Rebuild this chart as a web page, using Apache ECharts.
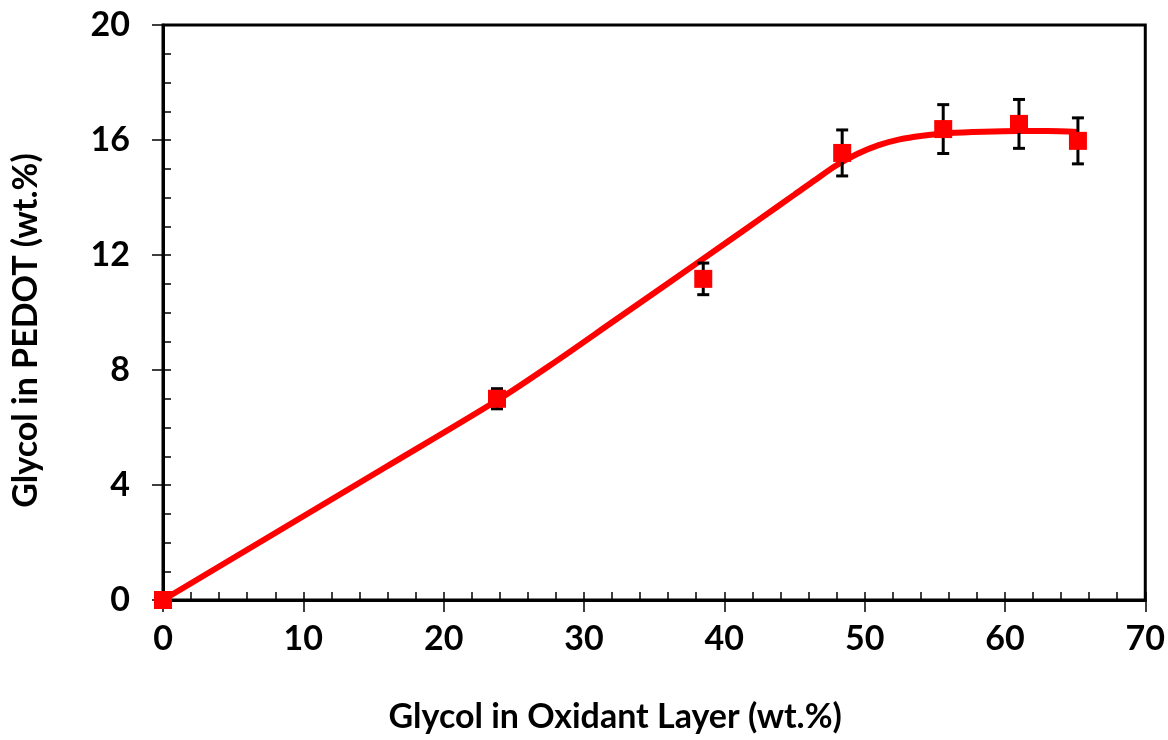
<!DOCTYPE html>
<html>
<head>
<meta charset="utf-8">
<script src="https://cdn.jsdelivr.net/npm/echarts@6/dist/echarts.min.js"></script>
<style>html,body{margin:0;padding:0;background:#fff;}#c{width:1168px;height:740px;}</style>
</head>
<body>
<div id="c"></div>
<script>
// Measured points
const xVals = [0, 23.8, 38.5, 48.4, 55.6, 61.0, 65.2];
const yVals = [0, 7.0, 11.17, 15.55, 16.38, 16.56, 15.97];
const yErr  = [0, 0.35, 0.55, 0.8, 0.85, 0.85, 0.8];
// Fitted curve
const curveX = [0, 8, 16, 24, 28, 32, 36, 40, 42.5, 45, 46.5, 48, 49.5, 51, 52.5, 54, 56, 58.5, 61, 63, 65.2];
const curveY = [0, 2.33, 4.66, 7.0, 8.3, 9.66, 11.02, 12.38, 13.24, 14.1, 14.62, 15.12, 15.52, 15.82, 16.02, 16.14, 16.24, 16.29, 16.31, 16.31, 16.28];
const xTitle = 'Glycol in Oxidant Layer (wt.%)';
const yTitle = 'Glycol in PEDOT (wt.%)';

const FONT = 'Lato';
const chart = echarts.init(document.getElementById('c'), null, {renderer: 'canvas'});
const pts = xVals.map((x, i) => [x, yVals[i]]);
const errData = xVals.map((x, i) => [x, yVals[i] - yErr[i], yVals[i] + yErr[i]]);
const curve = curveX.map((x, i) => [x, curveY[i]]);

chart.setOption({
  animation: false,
  grid: {left: 163, right: 22, top: 25, bottom: 140, show: true, borderColor: '#000', borderWidth: 3, backgroundColor: 'transparent'},
  xAxis: [{
    type: 'value', min: 0, max: 70, interval: 10,
    axisLine: {show: true, onZero: false, lineStyle: {color: '#000', width: 3}},
    axisTick: {show: true, inside: true, length: 8, lineStyle: {color: '#000', width: 1.5}},
    minorTick: {show: true, splitNumber: 5, length: 8, lineStyle: {color: '#000', width: 1.5}},
    splitLine: {show: false},
    axisLabel: {color: '#000', fontFamily: FONT, fontWeight: 'bold', fontSize: 34, margin: 22},
    name: xTitle, nameLocation: 'middle', nameGap: 100,
    nameTextStyle: {color: '#000', fontFamily: FONT, fontWeight: 'bold', fontSize: 34, padding: [0, 78, 0, 0]}
  }, {
    type: 'value', min: 0, max: 70, interval: 10, position: 'bottom',
    axisLine: {show: false}, axisLabel: {show: false}, splitLine: {show: false},
    axisTick: {show: true, inside: false, length: 12, lineStyle: {color: '#000', width: 1.5}}
  }],
  yAxis: [{
    type: 'value', min: 0, max: 20, interval: 4,
    axisLine: {show: true, onZero: false, lineStyle: {color: '#000', width: 3}},
    axisTick: {show: true, inside: true, length: 8, lineStyle: {color: '#000', width: 1.5}},
    minorTick: {show: true, splitNumber: 4, length: 8, lineStyle: {color: '#000', width: 1.5}},
    splitLine: {show: false},
    axisLabel: {color: '#000', fontFamily: FONT, fontWeight: 'bold', fontSize: 34, margin: 33},
    name: yTitle, nameLocation: 'middle', nameGap: 120, nameRotate: 90,
    nameTextStyle: {color: '#000', fontFamily: FONT, fontWeight: 'bold', fontSize: 34, padding: [0, 36, 0, 0]}
  }, {
    type: 'value', min: 0, max: 20, interval: 4, position: 'left',
    axisLine: {show: false}, axisLabel: {show: false}, splitLine: {show: false},
    axisTick: {show: true, inside: false, length: 11, lineStyle: {color: '#000', width: 1.5}}
  }],
  series: [{
    type: 'line', data: curve, smooth: 0.3, showSymbol: false, symbol: 'none',
    lineStyle: {color: '#ff0000', width: 6}, z: 2
  }, {
    type: 'custom', data: errData, z: 3,
    renderItem: function (params, api) {
      const x = api.value(0);
      const lo = api.coord([x, api.value(1)]);
      const hi = api.coord([x, api.value(2)]);
      const w = 6;
      const st = {stroke: '#000', lineWidth: 3};
      return {type: 'group', children: [
        {type: 'line', shape: {x1: lo[0], y1: lo[1], x2: hi[0], y2: hi[1]}, style: st},
        {type: 'line', shape: {x1: lo[0] - w, y1: lo[1], x2: lo[0] + w, y2: lo[1]}, style: st},
        {type: 'line', shape: {x1: hi[0] - w, y1: hi[1], x2: hi[0] + w, y2: hi[1]}, style: st}
      ]};
    }
  }, {
    type: 'scatter', data: pts, symbol: 'rect', symbolSize: 18,
    itemStyle: {color: '#ff0000', opacity: 1}, z: 4
  }]
});
</script>
</body>
</html>
